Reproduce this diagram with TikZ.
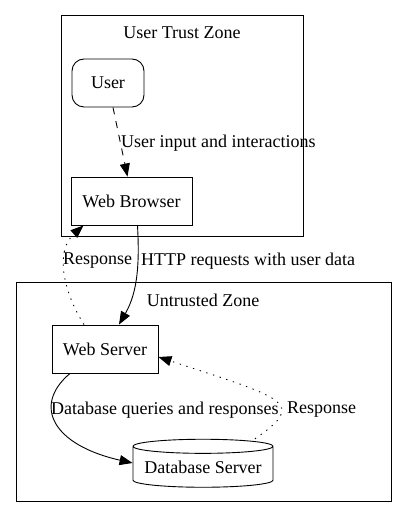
\documentclass[tikz,border=0pt]{standalone}
\usepackage{fontspec}
\setmainfont{Liberation Serif}
\usetikzlibrary{arrows.meta, shapes.geometric}
\def\textSize{18}
\def\boxHeight{48}

\begin{document}
\begin{tikzpicture}[x=1pt, y=-1pt,
    font=\fontsize{\textSize}{21}\selectfont,
    every node/.style={inner sep=0pt},
    box/.style={draw, line width=0.9pt, minimum height=\boxHeight pt},
    zone/.style={draw, line width=1pt},
    flow/.style={line width=0.9pt, -{Triangle[length=13pt, width=10pt]}},
    reply/.style={flow, dash pattern=on 1.3pt off 5.7pt},
    tag/.style={anchor=west}]

    \useasboundingbox (0,0) rectangle (407,518);

    % Draw zones
    \draw[zone] (61,16) rectangle (303,236);
    \node (trustTitle) at (182,33) {User Trust Zone};
    \draw[zone] (16,282) rectangle (391,501);
    \node (untrustedTitle) at (203,300) {Untrusted Zone};

    % Draw nodes
    \node[box, rounded corners=12pt, minimum width=72pt] (user) at (108,83) {User};
    \node[box, minimum width=121pt] (browser) at (131.5,201) {Web Browser};
    \node[box, minimum width=106pt] (server) at (105,349) {Web Server};
    \node[box, cylinder, shape border rotate=90, aspect=0.12,
          minimum width=140pt, minimum height=\boxHeight pt] (db) at (203,467) {Database Server};

    % Draw connectors
    \draw[flow, dash pattern=on 7pt off 7pt] ([xshift=5pt]user.south)
        -- ([xshift=-4pt]browser.north);
    \node[tag] (inputLabel) at (121,143) {User input and interactions};

    \draw[flow] ([xshift=6pt]browser.south)
        .. controls +(2,37) and +(19,-33) .. ([xshift=14pt]server.north);
    \node[tag] (httpLabel) at (141,261) {HTTP requests with user data};

    \draw[reply] ([xshift=-21pt]server.north)
        .. controls +(-22,-35) and +(-28,25) .. ([xshift=-48pt]browser.south);
    \node[tag] (browserReply) at (63,261) {Response};

    \draw[flow] ([xshift=-35pt]server.south)
        .. controls +(-38,32) and +(-80,-18) .. ([yshift=4pt]db.west);
    \node[tag] (queryLabel) at (51,410) {Database queries and responses};

    \draw[reply] ([xshift=52pt]db.north)
        .. controls +(52,-36) and +(128,42) .. ([yshift=-8pt]server.east);
    \node[tag] (serverReply) at (287,410) {Response};
\end{tikzpicture}
\end{document}
